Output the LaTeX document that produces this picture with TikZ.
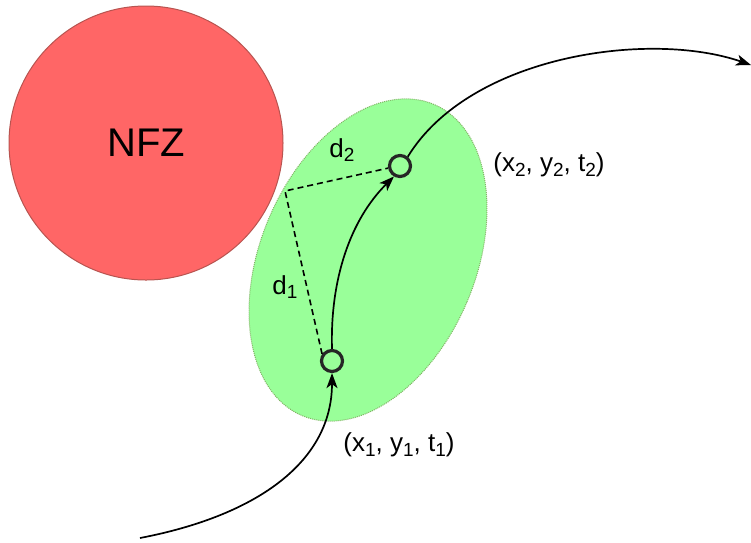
\documentclass[tikz,border=0pt]{standalone}
\usepackage{fontspec}
\setmainfont{Liberation Sans}
\usetikzlibrary{arrows.meta,shapes.geometric}
\definecolor{nfzred}{HTML}{FF6666}
\definecolor{nfzline}{HTML}{B85450}
\definecolor{zonegreen}{HTML}{99FF99}
\definecolor{zoneline}{HTML}{82B366}
\definecolor{wpline}{HTML}{262626}
\newcommand{\lowidx}[1]{\raisebox{-0.35ex}{\fontsize{19}{20}\selectfont #1}}
\tikzset{
  nfzzone/.style={circle, draw=nfzline, line width=1pt, fill=nfzred, minimum size=274pt, inner sep=0pt, font=\fontsize{40}{44}\selectfont},
  safezone/.style={ellipse, draw=zoneline, densely dotted, line width=1pt, fill=zonegreen, minimum width=215pt, minimum height=338pt, inner sep=0pt},
  waypoint/.style={circle, draw=wpline, line width=3.2pt, fill=zonegreen, minimum size=21pt, inner sep=0pt},
  traj/.style={-{Stealth[length=15pt,width=11pt,inset=4pt]}, line width=1.7pt},
  gap/.style={dashed, dash pattern=on 6pt off 4pt, line width=1.6pt},
  lbl/.style={font=\fontsize{26}{30}\selectfont, inner sep=0pt}
}
\begin{document}
\begin{tikzpicture}[x=1pt, y=-1pt]
  \useasboundingbox (0,0) rectangle (751,542);
  \node[nfzzone] (nfz) at (146,143) {NFZ};
  \node[safezone, rotate=-23] (zone) at (368,260) {};
  \node[waypoint] (p1) at (332,361) {};
  \node[waypoint] (p2) at (400,166) {};
  \coordinate (corner) at (285,191);
  \coordinate (entry) at (140,538);
  \coordinate (exit) at (751,65);
  \draw[gap] (p1.145) -- (corner) -- (p2.190);
  \draw[traj] (entry) .. controls (260,515) and (332,460) .. (p1.south);
  \draw[traj] (p1.north) .. controls (330,280) and (350,220) .. (p2.240);
  \draw[traj] (p2.50) .. controls (470,55) and (650,30) .. (exit);
  \node[lbl] (d1) at (285,287) {d\lowidx{1}};
  \node[lbl] (d2) at (342,150) {d\lowidx{2}};
  \node[lbl] (w2) at (549,165) {(x\lowidx{2}, y\lowidx{2}, t\lowidx{2})};
  \node[lbl] (w1) at (399,445) {(x\lowidx{1}, y\lowidx{1}, t\lowidx{1})};
\end{tikzpicture}
\end{document}
